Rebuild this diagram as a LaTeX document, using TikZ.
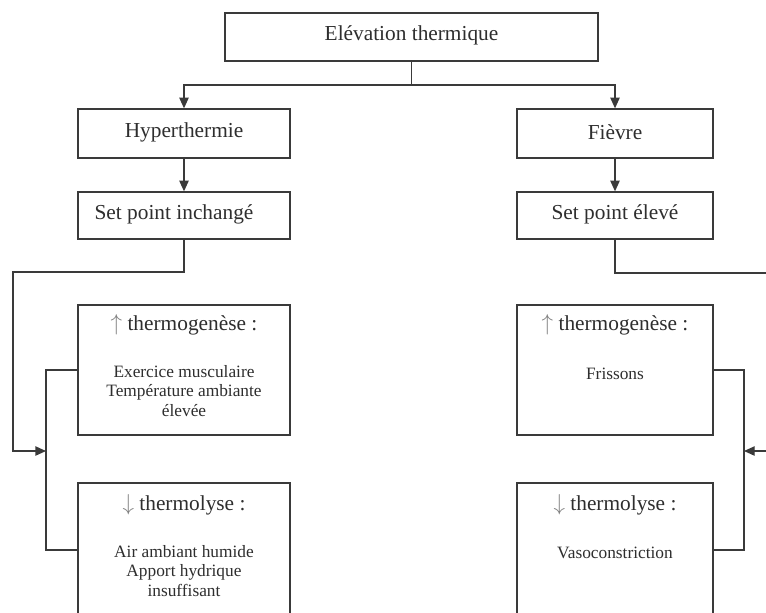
\documentclass[tikz,border=0pt]{standalone}
\usepackage{fontspec}
\setmainfont{Liberation Serif}
\usetikzlibrary{arrows.meta}
\definecolor{ink}{HTML}{3A3A3A}
\definecolor{txt}{HTML}{2E2E2E}
\tikzset{
  box/.style={draw=ink, line width=1pt, minimum height=#1, inner sep=0pt},
  lnk/.style={draw=ink, line width=1pt},
  arr/.style={lnk, -{Triangle[length=8pt,width=7pt]}},
  big/.style={text=txt, font=\fontsize{16}{19}\selectfont, inner sep=0pt},
  small/.style={text=txt, font=\fontsize{13}{14.5}\selectfont, align=center, inner sep=0pt},
}
\begin{document}
\begin{tikzpicture}[x=0.75pt, y=-0.75pt]
\clip (0,0) rectangle (766,612);
\path[use as bounding box] (0,0) rectangle (766,612);
\fill[white] (0,0) rectangle (766,612);

% boxes
\node[box=36pt, minimum width=279.75pt] (top) at (411.5,37) {};
\node[box=36.75pt, minimum width=159pt] (hyp) at (184,133.5) {};
\node[box=35.25pt, minimum width=159pt] (sp1) at (184,215.5) {};
\node[box=36.75pt, minimum width=147pt] (fie) at (615,133.5) {};
\node[box=35.25pt, minimum width=147pt] (sp2) at (615,215.5) {};
\node[box=97.5pt, minimum width=159pt] (tg1) at (184,370) {};
\node[box=100.5pt, minimum width=159pt] (tl1) at (184,550) {};
\node[box=97.5pt, minimum width=147pt] (tg2) at (615,370) {};
\node[box=100.5pt, minimum width=147pt] (tl2) at (615,550) {};

% texts
\node[big] (ttop) at (411.5,35) {Elévation thermique};
\node[big] (thyp) at (184,132) {Hyperthermie};
\node[big] (tsp1) at (174,214) {Set point inchangé};
\node[big] (tfie) at (615,132) {Fièvre};
\node[big] (tsp2) at (615,214) {Set point élevé};
\node[big] (htg1) at (184,325) {{\color{gray}$\uparrow$} thermogenèse :};
\node[small] (btg1) at (184,391) {Exercice musculaire\\Température ambiante\\élevée};
\node[big] (htl1) at (184,505) {{\color{gray}$\downarrow$} thermolyse :};
\node[small] (btl1) at (184,571) {Air ambiant humide\\Apport hydrique\\insuffisant};
\node[big] (htg2) at (615,325) {{\color{gray}$\uparrow$} thermogenèse :};
\node[small] (btg2) at (615,374) {Frissons};
\node[big] (htl2) at (615,505) {{\color{gray}$\downarrow$} thermolyse :};
\node[small] (btl2) at (615,553) {Vasoconstriction};

% top split
\coordinate (split) at (411.5,85);
\draw[lnk] (top.south) -- (split);
\draw[arr] (split) -| (hyp.north);
\draw[arr] (split) -| (fie.north);
\draw[arr] (hyp.south) -- (sp1.north);
\draw[arr] (fie.south) -- (sp2.north);

% left loop
\coordinate (L1) at (13,272);
\coordinate (L2) at (13,451);
\coordinate (jL) at (46,451);
\draw[arr] (sp1.south) -- (sp1.south |- L1) -- (L1) -- (L2) -- (jL);
\draw[lnk] (tg1.west) -- (tg1.west -| jL) -- (tl1.west -| jL) -- (tl1.west);

% right loop
\coordinate (R1) at (775,273);
\coordinate (R2) at (775,451);
\coordinate (jR) at (744,451);
\draw[lnk] (sp2.south) -- (sp2.south |- R1) -- (R1);
\draw[arr] (R2) -- (jR);
\draw[lnk] (tg2.east) -- (tg2.east -| jR) -- (tl2.east -| jR) -- (tl2.east);
\end{tikzpicture}
\end{document}
